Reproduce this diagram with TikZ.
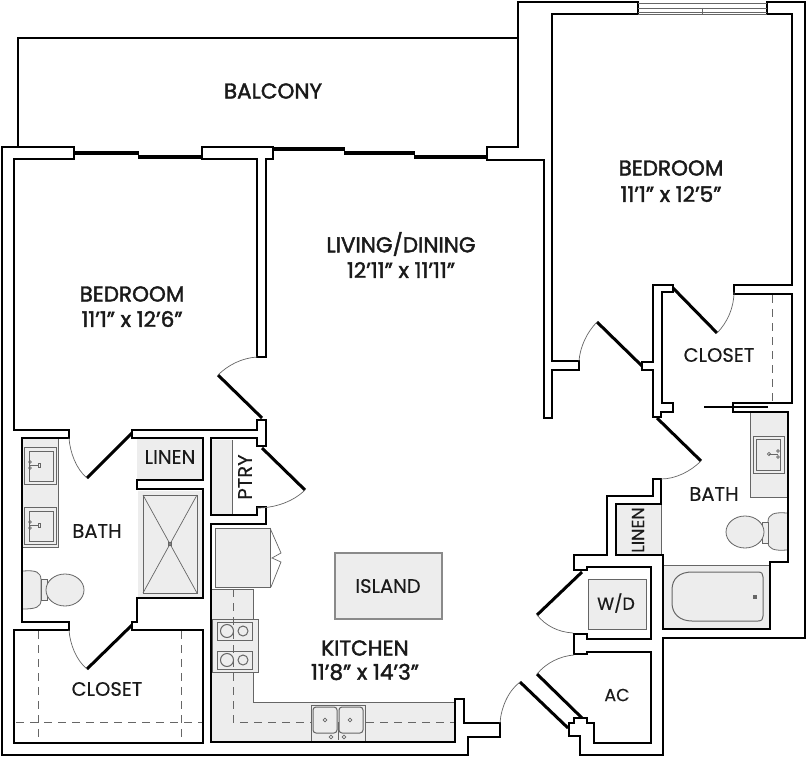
\documentclass[tikz,border=0pt]{standalone}
\usepackage{fontspec}
\setmainfont{Poppins}
\newfontfamily\titlefont[FakeBold=1.9]{Poppins}
\newfontfamily\smallfont[FakeBold=0.3]{Poppins}
\definecolor{fixgray}{HTML}{EDEDED}
\definecolor{lineg}{HTML}{666666}
\definecolor{islandline}{HTML}{8A8A8A}
\definecolor{ink}{HTML}{1A1A1A}
\tikzset{
  wall/.style={draw=black,line width=2.6pt,line join=miter},
  leaf/.style={draw=black,line width=3pt},
  glass/.style={draw=black,line width=3.8pt},
  swing/.style={draw=lineg,line width=0.7pt},
  fixture/.style={draw=lineg,line width=0.8pt,fill=fixgray},
  thin/.style={draw=lineg,line width=0.7pt},
  dashline/.style={draw=lineg,line width=0.8pt,dash pattern=on 8pt off 6pt},
  title/.style={font=\titlefont\fontsize{21.5}{24}\selectfont,text=ink,inner sep=0pt},
  small/.style={font=\smallfont\fontsize{19.5}{22}\selectfont,text=ink,inner sep=0pt},
  tiny/.style={font=\smallfont\fontsize{17.5}{20}\selectfont,text=ink,inner sep=0pt}
}
\begin{document}
\begin{tikzpicture}[x=1pt,y=-1pt]
\useasboundingbox (0,0) rectangle (806,757);
\fill[white] (0,0) rectangle (806,757);
% fixtures: fills first
\fill[fixgray] (212,589) -- (253,589) -- (253,702) -- (455,702) -- (455,742) -- (212,742) -- cycle;
\draw[thin] (212,589) -- (253,589) -- (253,702) -- (455,702);
\fill[fixgray] (137,439) rectangle (202,480);
\fill[fixgray] (212,440) rectangle (232,515);
\draw[thin] (232,440) -- (232,515);
\fill[fixgray] (616,504) rectangle (661,555);
\draw[thin] (661,504) -- (661,555);
\fill[fixgray] (23,439) rectangle (58,547);
\draw[thin] (58,439) -- (58,547) -- (23,547);
\draw[thin] (24,447) rectangle (56,484) (29,451) rectangle (53,481);
\draw[thin] (24,507) rectangle (56,544) (29,511) rectangle (53,541);
\foreach \fy in {465,525}{
  \draw[thin] (29,\fy) -- (38,\fy);
  \draw[thin] (38,\fy-2) rectangle (40,\fy+2);
  \draw[thin] (30,\fy-3) circle (1.4) (30,\fy+3) circle (1.4);
}
% left toilet
\draw[fixture] (23,571) .. controls (36,570) and (41,572) .. (41,580) -- (41,600) .. controls (41,607) and (36,609) .. (23,609);
\draw[fixture] (41,579) rectangle (47,600);
\draw[fixture] (65,590) ellipse (19 and 16);
% shower
\fill[fixgray] (138,491) rectangle (202,597);
\draw[thin,line width=1pt] (143,495) rectangle (197,593);
\draw[thin] (143,495) -- (197,593) (197,495) -- (143,593);
\draw[thin] (168.500,542.500) rectangle (171.500,545.500);
% fridge
\draw[fixture] (215,528) rectangle (270,587);
\draw[thin] (270,528) -- (281,553) -- (272,558) -- (281,562) -- (271,587);
% stove
\draw[fixture] (212,619) rectangle (258,672);
\draw[thin] (217,622) rectangle (252,640) (217,651) rectangle (252,669);
\draw[thin,line width=1pt] (227,631) circle (6.5) (243,631) circle (5) (227,660) circle (6.5) (243,660) circle (5);
% kitchen dashes
\draw[dashline] (233,589) -- (233,722) -- (455,722);
% sink
\draw[fixture] (311,705) rectangle (365,741);
\draw[thin,line width=1pt,rounded corners=3pt] (313,707) rectangle (337,733) (339,707) rectangle (363,733);
\draw[thin] (325,720) circle (1.8) (350,720) circle (1.8) (331,737) circle (1.8) (344,737) circle (1.8);
\draw[thin] (338,722) -- (338,740);
% island
\draw[draw=islandline,fill=fixgray,line width=1.1pt] (335,553) rectangle (442,619);
% vanity right
\fill[fixgray] (750,412) rectangle (788,497);
\draw[thin] (750,412) -- (750,497) -- (788,497);
\draw[thin] (753,436) rectangle (784,473) (756,439) rectangle (780,470);
\draw[thin] (769,454) -- (778,454);
\draw[thin] (769,454) circle (1.6) (778,451) circle (1.4) (778,457) circle (1.4);
% right toilet
\draw[fixture] (787,513) .. controls (774,512) and (768,514) .. (768,522) -- (768,542) .. controls (768,549) and (774,551) .. (787,550);
\draw[fixture] (762,522) rectangle (768,543);
\draw[fixture] (745,532) ellipse (19 and 16);
% tub
\fill[fixgray] (664,565) rectangle (769,628);
\draw[thin] (664,565) -- (769,565);
\draw[thin,line width=1pt] (672,590) .. controls (672,578) and (680,572) .. (692,572) -- (758,572) .. controls (762,572) and (763,574) .. (763,577) -- (763,616) .. controls (763,619) and (762,621) .. (758,621) -- (692,621) .. controls (680,621) and (672,614) .. (672,603) -- cycle;
\fill[lineg] (753,595) rectangle (757,599);
% washer dryer
\draw[fixture] (588,579) rectangle (646,629);
% closet dashes
\draw[dashline] (38,631) -- (38,742);
\draw[dashline] (181,631) -- (181,742);
\draw[dashline] (16,722) -- (202,722);
\draw[dashline] (772,295) -- (772,402);
% balcony
\draw[wall] (18,146) -- (18,38) -- (518,38);
% main walls
\draw[wall] (2,147) -- (2,755) -- (468,755) -- (468,737) -- (500,737) -- (500,723) -- (464,723) -- (464,699) -- (455,699) -- (455,742) -- (211,742) -- (211,524) -- (266,524) -- (266,507) -- (257,507) -- (257,515) -- (211,515) -- (211,438) -- (257,438) -- (257,446) -- (266,446) -- (266,420) -- (257,420) -- (257,430) -- (132,430) -- (132,438) -- (203,438) -- (203,480) -- (137,480) -- (137,489) -- (203,489) -- (203,598) -- (137,598) -- (137,622) -- (132,622) -- (132,630) -- (203,630) -- (203,743) -- (14,743) -- (14,630) -- (69,630) -- (69,622) -- (22,622) -- (22,438) -- (69,438) -- (69,430) -- (14,430) -- (14,159) -- (74,159) -- (74,147) -- cycle;
\draw[wall] (202,147) -- (273,147) -- (273,159) -- (266,159) -- (266,357) -- (257,357) -- (257,159) -- (202,159) -- cycle;
\draw[wall] (518,38) -- (518,2) -- (638,2) -- (638,14) -- (552,14) -- (552,361) -- (579,361) -- (579,370) -- (552,370) -- (552,418) -- (544,418) -- (544,160) -- (487,160) -- (487,147) -- (518,147) -- cycle;
\draw[wall] (767,2) -- (767,14) -- (792,14) -- (792,285) -- (734,285) -- (734,294) -- (792,294) -- (792,403) -- (733,403) -- (733,412) -- (788,412) -- (788,562) -- (770,562) -- (770,629) -- (663,629) -- (663,555) -- (616,555) -- (616,504) -- (661,504) -- (661,479) -- (653,479) -- (653,496) -- (607,496) -- (607,555) -- (574,555) -- (574,570) -- (587,570) -- (587,567) -- (651,567) -- (651,639) -- (587,639) -- (587,634) -- (574,634) -- (574,654) -- (587,654) -- (587,652) -- (651,652) -- (651,743) -- (594,743) -- (594,723) -- (587,723) -- (587,718) -- (574,718) -- (574,723) -- (569,723) -- (569,736) -- (580,736) -- (580,755) -- (663,755) -- (663,638) -- (805,638) -- (805,2) -- cycle;
\draw[wall] (642,362) -- (653,362) -- (653,285) -- (673,285) -- (673,292) -- (662,292) -- (662,403) -- (673,403) -- (673,412) -- (661,412) -- (661,417) -- (653,417) -- (653,370) -- (642,370) -- cycle;
% glazing
\draw[glass] (74,153) -- (139,153);
\draw[glass] (138,157) -- (202,157);
\draw[glass] (273,149) -- (345,149);
\draw[glass] (344,153) -- (415,153);
\draw[glass] (414,157) -- (487,157);
% window
\draw[thin] (638,3) -- (767,3) (638,8) -- (767,8) (638,12) -- (767,12) (638,14) -- (767,14) (702,8) -- (702,14);
% door leaves and swings
\draw[leaf] (132,433) -- (87,478);
\draw[swing] (87,478) .. controls (76,469) and (70,452) .. (69,438);
\draw[leaf] (132,625) -- (87,669);
\draw[swing] (87,669) .. controls (76,660) and (70,644) .. (69,630);
\draw[leaf] (262,418) -- (218,375);
\draw[swing] (218,375) .. controls (228,365) and (242,358) .. (257,357);
\draw[leaf] (262,448) -- (305,490);
\draw[swing] (305,490) .. controls (294,501) and (276,508) .. (257,508);
\draw[leaf] (597,322) -- (642,366);
\draw[swing] (597,322) .. controls (587,332) and (580,347) .. (579,361);
\draw[leaf] (673,288) -- (717,333);
\draw[swing] (717,333) .. controls (727,323) and (734,308) .. (734,292);
\draw[leaf] (657,418) -- (701,461);
\draw[swing] (701,461) .. controls (691,471) and (676,479) .. (661,479);
\draw[leaf] (582,572) -- (537,615);
\draw[swing] (537,615) .. controls (546,626) and (558,632) .. (573,633);
\draw[leaf] (537,674) -- (582,718);
\draw[swing] (537,674) .. controls (546,663) and (560,656) .. (574,655);
\draw[leaf] (520,682) -- (568,728);
\draw[swing] (520,682) .. controls (508,691) and (501,708) .. (500,723);
\draw[line width=2.8pt] (704,407) -- (768,407);
% labels
\node[title] (lbalcony) at (273,91) {BALCONY};
\node[title] (lbed1) at (132,294) {BEDROOM};
\node[title] (lbed1d) at (132,319) {11’1” x 12’6”};
\node[title] (lliving) at (401,244) {LIVING/DINING};
\node[title] (llivingd) at (401,270) {12’11” x 11’11”};
\node[title] (lbed2) at (671,168) {BEDROOM};
\node[title] (lbed2d) at (671,194) {11’1” x 12’5”};
\node[title] (lkitchen) at (365,648) {KITCHEN};
\node[title] (lkitchend) at (365,672) {11’8” x 14’3”};
\node[small] (llinen1) at (170,457) {LINEN};
\node[small,rotate=90] (lptry) at (245,477) {PTRY};
\node[small] (lbath1) at (97,531) {BATH};
\node[small] (lcloset1) at (107,689) {CLOSET};
\node[small] (lcloset2) at (719,355) {CLOSET};
\node[small] (lbath2) at (714,494) {BATH};
\node[tiny,rotate=90] (llinen2) at (638,530) {LINEN};
\node[tiny] (lwd) at (616,603) {W/D};
\node[tiny] (lac) at (617,695) {AC};
\node[small] (lisland) at (388,586) {ISLAND};
\end{tikzpicture}
\end{document}
